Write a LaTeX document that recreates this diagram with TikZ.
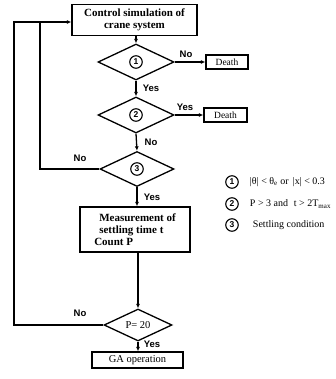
\documentclass[tikz,border=0pt]{standalone}
\usepackage{fontspec}
\setmainfont{Liberation Serif}
\setsansfont{Liberation Sans}
\usetikzlibrary{shapes.geometric,arrows.meta}
\begin{document}
\begin{tikzpicture}[x=1pt,y=-1pt,
  line width=1.3pt,
  pbox/.style={draw, rectangle, inner sep=1pt, font=\bfseries\fontsize{11}{12}\selectfont},
  dbox/.style={draw, rectangle, inner sep=1.5pt, font=\fontsize{9.5}{10}\selectfont},
  dia/.style={draw, diamond, minimum width=76pt, minimum height=36pt, inner sep=0pt},
  cnum/.style={draw, circle, minimum size=12.5pt, inner sep=0pt, line width=1.1pt, font=\sffamily\bfseries\fontsize{8.5}{9}\selectfont},
  lab/.style={font=\sffamily\bfseries\fontsize{9.5}{10}\selectfont},
  leg/.style={anchor=west, font=\fontsize{10}{11}\selectfont},
  arr/.style={-{Latex[length=4.5pt,width=4pt]}}
]
\useasboundingbox (0,0) rectangle (335,379);
% boxes
\node[pbox, minimum width=125pt, minimum height=31pt, align=center] (top) at (134.5,20) {Control simulation of\\[0pt]crane system};
\node[dia] (d1) at (136,62) {};
\node[cnum] (c1) at (d1) {1};
\node[dbox, minimum width=42pt, minimum height=14pt] (death1) at (227,62) {Death};
\node[dia] (d2) at (136,115) {};
\node[cnum] (c2) at (d2) {2};
\node[dbox, minimum width=43pt, minimum height=14pt] (death2) at (225.5,115) {Death};
\node[dia, minimum width=74pt, minimum height=35pt] (d3) at (137,169) {};
\node[cnum] (c3) at (d3) {3};
\node[pbox, minimum width=110pt, minimum height=45pt, align=left] (meas) at (135,229.5) {\hspace{5pt}Measurement of\\\hspace{5pt}settling time t\\Count P};
\node[dia, minimum width=68pt, minimum height=25pt, font=\fontsize{10.5}{11}\selectfont] (d4) at (138,325) {P= 20};
\node[dbox, minimum width=91pt, minimum height=16pt, font=\fontsize{10.5}{11}\selectfont] (ga) at (137.5,360) {GA operation};
% connectors
\draw[arr] (top.south -| d1) -- (d1.north);
\draw[arr] (d1.east) -- (death1.west);
\draw[arr] (d1.south) -- (d2.north);
\draw[arr] (d2.east) -- (death2.west);
\draw[arr] (d2.south) -- (d3.north);
\draw[arr] (d3.south) -- (meas.north -| d3);
\draw[arr] (meas.south -| d4) -- (d4.north);
\draw[arr] (d4.south) -- (ga.north -| d4);
\coordinate (j1) at (40,22);
\coordinate (j2) at (14,22);
\coordinate (tin) at (top.west |- j1);
\draw (d3.west) -| (j1);
\draw[arr] (d4.west) -| (j2) -- (tin);
% labels
\node[lab] (l1) at (186,54) {No};
\node[lab] (l2) at (151,88) {Yes};
\node[lab] (l3) at (185,107) {Yes};
\node[lab] (l4) at (151,142) {No};
\node[lab] (l5) at (80,158) {No};
\node[lab] (l6) at (152,197) {Yes};
\node[lab] (l7) at (80,313) {No};
\node[lab] (l8) at (152,344) {Yes};
% legend
\node[cnum] (k1) at (232,182) {1};
\node[cnum] (k2) at (232,204) {2};
\node[cnum] (k3) at (232,225) {3};
\node[leg] (t1) at (246,182) {|θ| < θ\textsubscript{e} or\, |x| < 0.3};
\node[leg] (t2) at (246,204) {P > 3 and\,\, t > 2T\textsubscript{max}};
\node[leg] (t3) at (246,225) {\hspace{3pt}Settling condition};
\end{tikzpicture}
\end{document}
